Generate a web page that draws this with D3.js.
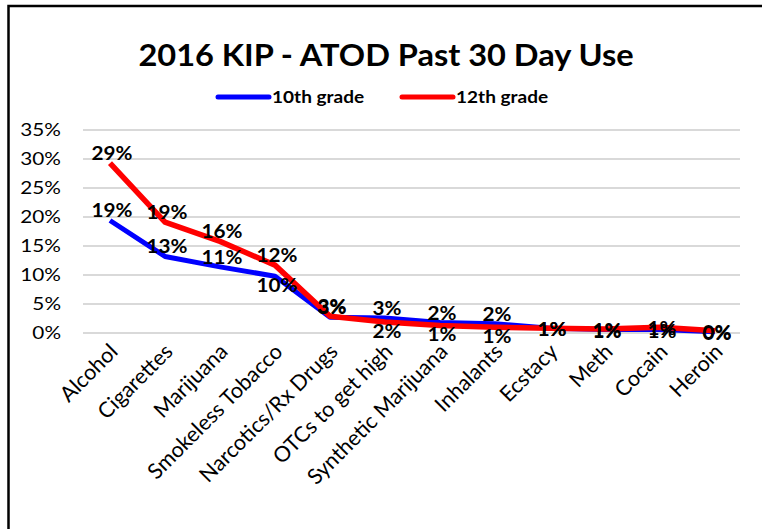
<!DOCTYPE html>
<meta charset="utf-8">
<script src="https://d3js.org/d3.v7.min.js"></script>
<style>
    body { margin: 0; background: #fff; }
    svg { display: block; }
</style>
<body>
<div id="my_dataviz"></div>
<script>

    // categories and series (fractions)
    var categories = ["Alcohol", "Cigarettes", "Marijuana", "Smokeless Tobacco", "Narcotics/Rx Drugs",
        "OTCs to get high", "Synthetic Marijuana", "Inhalants", "Ecstacy", "Meth", "Cocain", "Heroin"];
    var grade10 = [0.194, 0.132, 0.114, 0.098, 0.027, 0.026, 0.018, 0.016, 0.008, 0.006, 0.006, 0.002];
    var grade12 = [0.293, 0.191, 0.158, 0.117, 0.029, 0.019, 0.013, 0.010, 0.008, 0.007, 0.010, 0.004];
    var yTicks = [0, 0.05, 0.10, 0.15, 0.20, 0.25, 0.30, 0.35];

    // where each data label sits relative to its point
    var pos10 = ["above", "above", "above", "below", "above", "above", "above", "above", "center", "center", "center", "center"];
    var pos12 = ["above", "above", "above", "above", "above", "below", "below", "below", "center", "center", "center", "center"];

    var W = 762, H = 529;
    var svg = d3.select("#my_dataviz").append("svg")
        .attr("width", W).attr("height", H);

    // chart frame
    svg.append("rect")
        .attr("x", 8.5).attr("y", 6)
        .attr("width", 800).attr("height", 600)
        .attr("fill", "#fff").attr("stroke", "#000").attr("stroke-width", 2.5);

    var x = d3.scalePoint().domain(categories).range([110, 715]);
    var y = d3.scaleLinear().domain([0, 0.35]).range([333, 130]);

    var font = "Lato, 'DejaVu Sans', sans-serif";
    var pct = d3.format(".0%");

    // text that is a bit wider than the font draws it
    function wideText(g, px, py, sx) {
        return g.append("text")
            .attr("transform", "translate(" + px + "," + py + ") scale(" + sx + ",1)")
            .attr("font-family", font);
    }

    // title
    wideText(svg, 386, 66, 1.05)
        .attr("text-anchor", "middle")
        .attr("font-weight", "bold")
        .attr("font-size", "31px")
        .text("2016 KIP - ATOD Past 30 Day Use");

    // legend
    var legend = [{ name: "10th grade", color: "#0000ff", x: 218 }, { name: "12th grade", color: "#ff0000", x: 402 }];
    legend.forEach(function (d) {
        svg.append("line")
            .attr("x1", d.x).attr("x2", d.x + 51)
            .attr("y1", 97).attr("y2", 97)
            .attr("stroke", d.color).attr("stroke-width", 5).attr("stroke-linecap", "round");
        wideText(svg, d.x + 54, 103, 1.12)
            .attr("font-weight", "bold").attr("font-size", "17px")
            .text(d.name);
    });

    // gridlines
    svg.append("g").selectAll("line")
        .data(yTicks)
        .enter().append("line")
        .attr("x1", 83).attr("x2", 740)
        .attr("y1", function (d) { return y(d); })
        .attr("y2", function (d) { return y(d); })
        .attr("stroke", "#d9d9d9").attr("stroke-width", 2);

    // y labels
    var gy = svg.append("g");
    yTicks.forEach(function (d) {
        wideText(gy, 61, y(d) + 6, 1.22)
            .attr("text-anchor", "end")
            .attr("font-size", "17px")
            .text(pct(d));
    });

    // x labels
    svg.append("g").selectAll("text")
        .data(categories)
        .enter().append("text")
        .attr("transform", function (d) { return "translate(" + (x(d) + 9) + ",353) rotate(-45)"; })
        .attr("text-anchor", "end")
        .attr("font-family", font).attr("font-size", "21.5px")
        .text(function (d) { return d; });

    var line = d3.line()
        .x(function (d, i) { return x(categories[i]); })
        .y(function (d) { return y(d); });

    svg.append("path").datum(grade10)
        .attr("d", line).attr("fill", "none")
        .attr("stroke", "#0000ff").attr("stroke-width", 5).attr("stroke-linejoin", "round");
    svg.append("path").datum(grade12)
        .attr("d", line).attr("fill", "none")
        .attr("stroke", "#ff0000").attr("stroke-width", 5.5).attr("stroke-linejoin", "round");

    function labels(values, positions) {
        var g = svg.append("g");
        values.forEach(function (d, i) {
            var p = positions[i];
            var ly = p === "above" ? y(d) - 3 : (p === "below" ? y(d) + 16 : y(d) + 8);
            wideText(g, x(categories[i]) + 2, ly, 1.15)
                .attr("text-anchor", "middle")
                .attr("font-weight", "bold").attr("font-size", "18px")
                .text(pct(d));
        });
    }
    labels(grade10, pos10);
    labels(grade12, pos12);

</script>
</body>
